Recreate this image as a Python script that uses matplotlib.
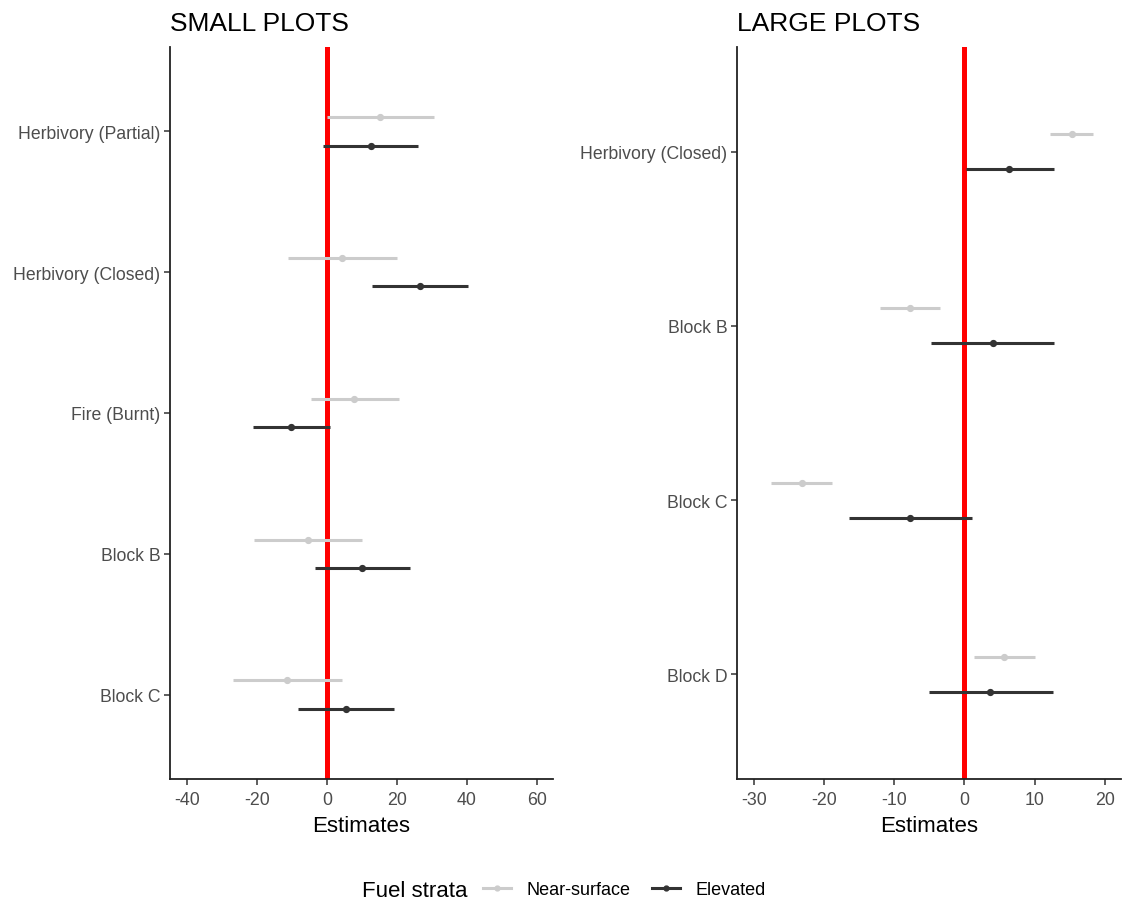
import numpy as np
import matplotlib
matplotlib.use("Agg")
import matplotlib.pyplot as plt
from matplotlib.lines import Line2D

plt.rcParams["font.family"] = ["Liberation Sans", "DejaVu Sans"]

# small plots (top to bottom)
small_terms = ["Herbivory (Partial)", "Herbivory (Closed)", "Fire (Burnt)", "Block B", "Block C"]
small_ns_est = [15.2, 4.4, 7.8, -5.5, -11.3]
small_ns_lo = [0.0, -11.0, -4.6, -20.8, -26.7]
small_ns_hi = [30.7, 19.9, 20.5, 9.9, 4.2]
small_el_est = [12.5, 26.6, -10.1, 10.1, 5.4]
small_el_lo = [-1.1, 13.0, -21.1, -3.4, -8.2]
small_el_hi = [26.0, 40.2, 0.9, 23.7, 19.1]

# large plots (top to bottom)
large_terms = ["Herbivory (Closed)", "Block B", "Block C", "Block D"]
large_ns_est = [15.3, -7.7, -23.2, 5.7]
large_ns_lo = [12.2, -12.0, -27.5, 1.4]
large_ns_hi = [18.3, -3.5, -18.9, 10.0]
large_el_est = [6.4, 4.0, -7.7, 3.7]
large_el_lo = [0.2, -4.8, -16.5, -5.1]
large_el_hi = [12.7, 12.8, 1.1, 12.6]

NS_COL = "#cccccc"
EL_COL = "#333333"
TXT = "#4d4d4d"

fig = plt.figure(figsize=(11.28, 9.04), dpi=100)
W, H = 1128, 904


def px_axes(x0, y0, x1, y1):
    return fig.add_axes([x0 / W, 1 - y1 / H, (x1 - x0) / W, (y1 - y0) / H])


def forest(ax, terms, ns, el, xlim, xticks, title):
    n = len(terms)
    y = np.arange(n, 0, -1)
    ax.axvline(0, color="red", lw=3.6, zorder=1)
    for (est, lo, hi), col, off in [(ns, NS_COL, 0.1), (el, EL_COL, -0.1)]:
        est = np.array(est)
        err = [est - np.array(lo), np.array(hi) - est]
        ax.errorbar(est, y + off, xerr=err, fmt="o", color=col, ms=4.2,
                    elinewidth=2.2, capsize=0, zorder=3)
    ax.set_ylim(0.4, n + 0.6)
    ax.set_yticks(y)
    ax.set_yticklabels(terms, fontsize=12.7, color=TXT)
    ax.set_xlim(*xlim)
    ax.set_xticks(xticks)
    ax.set_xticklabels([str(t) for t in xticks], fontsize=12.8, color=TXT)
    ax.set_xlabel("Estimates", fontsize=16, labelpad=5)
    for s in ["top", "right"]:
        ax.spines[s].set_visible(False)
    for s in ["left", "bottom"]:
        ax.spines[s].set_linewidth(1.3)
        ax.spines[s].set_color("#222222")
    ax.tick_params(axis="x", length=4, width=1.1, color="#333333", pad=5)
    ax.tick_params(axis="y", length=4, width=1.1, color="#333333", pad=3)
    ax.set_title(title, loc="left", fontsize=19, pad=12)


ax1 = px_axes(170, 48, 553, 780)
forest(ax1, small_terms,
       (small_ns_est, small_ns_lo, small_ns_hi),
       (small_el_est, small_el_lo, small_el_hi),
       (-44.8, 64.6), [-40, -20, 0, 20, 40, 60], "SMALL PLOTS")

ax2 = px_axes(737, 48, 1121, 780)
forest(ax2, large_terms,
       (large_ns_est, large_ns_lo, large_ns_hi),
       (large_el_est, large_el_lo, large_el_hi),
       (-32.4, 22.3), [-30, -20, -10, 0, 10, 20], "LARGE PLOTS")

# legend at bottom
fig.text(362 / W, 1 - 892 / H, "Fuel strata", fontsize=16, va="center", ha="left")
handles = [
    Line2D([], [], color=NS_COL, lw=2.2, marker="o", ms=3.5),
    Line2D([], [], color=EL_COL, lw=2.2, marker="o", ms=3.5),
]
fig.legend(handles, ["Near-surface", "Elevated"], loc="center left",
           bbox_to_anchor=(483 / W, 1 - 891 / H), ncol=2, frameon=False,
           fontsize=13, handlelength=1.55, handletextpad=0.85, columnspacing=1.2,
           borderaxespad=0, borderpad=0)

fig.savefig("out.png", dpi=100)
